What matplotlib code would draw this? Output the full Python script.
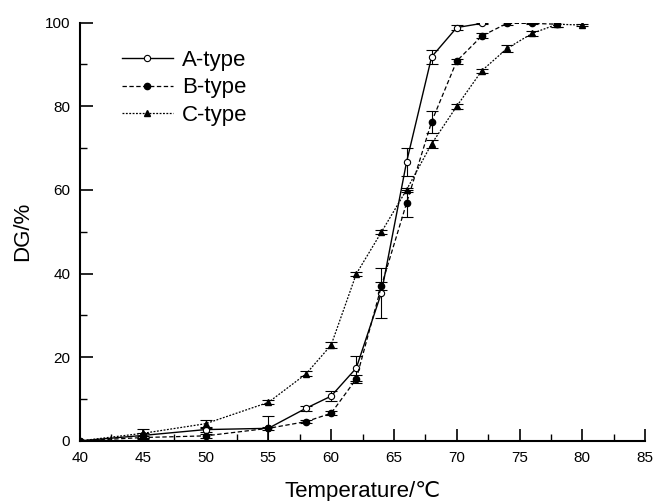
import matplotlib
matplotlib.use('Agg')
import matplotlib.pyplot as plt
from matplotlib.ticker import MultipleLocator

plt.rcParams['font.family'] = ['Liberation Sans', 'DejaVu Sans', 'Noto Sans CJK SC']

# data
temp_a = [40, 45, 50, 55, 58, 60, 62, 64, 66, 68, 70, 72]
dg_a = [0, 1.3, 2.7, 3.0, 7.8, 10.7, 17.4, 35.4, 66.6, 91.8, 98.8, 99.8]
err_a = [0, 0.5, 0.5, 0.3, 0.6, 1.2, 3.0, 6.0, 3.4, 1.7, 0.5, 0.2]

temp_b = [40, 45, 50, 55, 58, 60, 62, 64, 66, 68, 70, 72, 74, 76, 78]
dg_b = [0, 0.8, 1.2, 3.0, 4.6, 6.6, 14.8, 37.0, 56.8, 76.3, 90.8, 96.8, 99.8, 99.8, 99.6]
err_b = [0, 0.3, 0.5, 3.0, 0.4, 0.5, 1.0, 1.0, 3.2, 2.6, 0.6, 0.6, 0.3, 0.2, 0.6]

temp_c = [40, 45, 50, 55, 58, 60, 62, 64, 66, 68, 70, 72, 74, 76, 78, 80]
dg_c = [0, 1.8, 4.1, 9.2, 16.0, 22.9, 39.9, 49.9, 60.0, 71.0, 80.0, 88.5, 93.8, 97.4, 99.6, 99.4]
err_c = [0, 1.0, 1.0, 0.5, 0.6, 0.8, 0.5, 0.5, 0.5, 1.0, 0.6, 0.5, 0.8, 0.6, 0.6, 0.3]

fig = plt.figure(figsize=(6.55, 5.01), dpi=100)
ax = fig.add_axes([0.122, 0.12, 0.863, 0.835])

ax.errorbar(temp_a, dg_a, yerr=err_a, color='black', linestyle='-', linewidth=1.0,
            marker='o', markersize=4.5, markerfacecolor='white', markeredgewidth=0.8,
            capsize=4, elinewidth=0.8, capthick=0.8, label='A-type')
ax.errorbar(temp_b, dg_b, yerr=err_b, color='black', linestyle=(0, (3.5, 2)), linewidth=0.9,
            marker='o', markersize=4.5, capsize=4, elinewidth=0.8, capthick=0.8,
            label='B-type')
ax.errorbar(temp_c, dg_c, yerr=err_c, color='black', linestyle=(0, (1.5, 1.2)), linewidth=0.9,
            marker='^', markersize=5, capsize=4, elinewidth=0.8, capthick=0.8,
            label='C-type')

ax.set_xlim(40, 85)
ax.set_ylim(0, 100)
ax.xaxis.set_major_locator(MultipleLocator(5))
ax.xaxis.set_minor_locator(MultipleLocator(2.5))
ax.yaxis.set_major_locator(MultipleLocator(20))
ax.yaxis.set_minor_locator(MultipleLocator(10))

for side in ['top', 'right']:
    ax.spines[side].set_visible(False)
for side in ['left', 'bottom']:
    ax.spines[side].set_linewidth(1.5)

ax.tick_params(which='major', direction='in', length=9, width=1.2, labelsize=11, pad=7)
ax.tick_params(which='minor', direction='in', length=5, width=1.0)

ax.set_xlabel('Temperature/\u2103', fontsize=16, labelpad=12)
ax.set_ylabel('DG/%', fontsize=16, labelpad=8)

handles, labels = ax.get_legend_handles_labels()
handles = [h[0] for h in handles]
ax.legend(handles, labels, loc='upper left', bbox_to_anchor=(0.074, 0.935), frameon=False,
          fontsize=16, handlelength=2.3, handletextpad=0.4, labelspacing=0.3,
          borderpad=0, borderaxespad=0)

plt.savefig('out.png', dpi=100)
